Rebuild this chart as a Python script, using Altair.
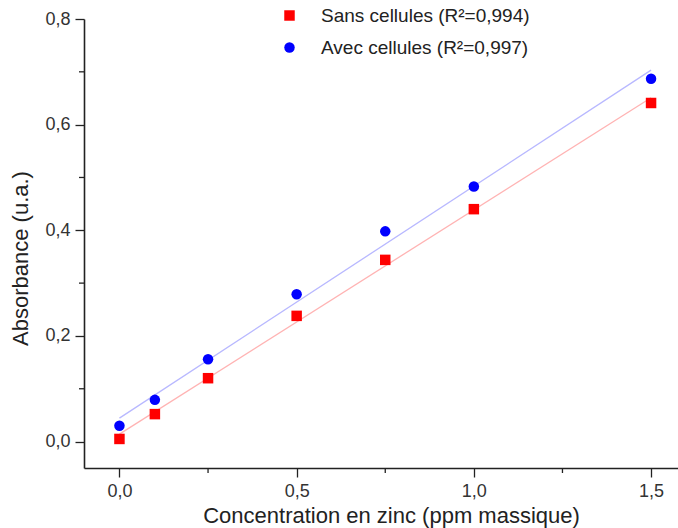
import altair as alt
import pandas as pd

conc = [0.0, 0.1, 0.25, 0.5, 0.75, 1.0, 1.5]
sans = [0.005, 0.052, 0.120, 0.238, 0.344, 0.440, 0.641]
avec = [0.030, 0.079, 0.156, 0.279, 0.398, 0.483, 0.687]
series = ["Sans cellules (R²=0,994)", "Avec cellules (R²=0,997)"]
colors = ["#ff0000", "#0000ff"]
line_colors = ["#ffb3b3", "#b8b8ff"]
shapes = ["square", "circle"]

x_major = [0.0, 0.5, 1.0, 1.5]
x_minor = [0.25, 0.75, 1.25]
y_major = [0.0, 0.2, 0.4, 0.6, 0.8]
y_minor = [0.1, 0.3, 0.5, 0.7]

rows = []
for s, vals in zip(series, [sans, avec]):
    for c, v in zip(conc, vals):
        rows.append({"x": c, "y": v, "serie": s})
df = pd.DataFrame(rows)

W, H = 594, 449
FONT = "Liberation Sans"
xscale = alt.Scale(domain=[-0.1, 1.576], nice=False, zero=False)
yscale = alt.Scale(domain=[-0.05, 0.8], nice=False, zero=False)
lab = "replace(format(datum.value, '.1f'), '.', ',')"

x_axis = alt.Axis(values=x_major, labelExpr=lab, grid=False, tickSize=9,
                  tickColor="#222", tickWidth=1.3, domainColor="#222", domainWidth=1.6,
                  labelFont=FONT, labelFontSize=18, labelColor="#333", labelPadding=5,
                  title="Concentration en zinc (ppm massique)", titleFont=FONT,
                  titleFontSize=22, titleFontWeight="normal", titleColor="#222",
                  titlePadding=5, titleX=307, orient="bottom")
y_axis = alt.Axis(values=y_major, labelExpr=lab, grid=False, tickSize=9,
                  tickColor="#222", tickWidth=1.3, domainColor="#222", domainWidth=1.6,
                  labelFont=FONT, labelFontSize=18, labelColor="#333", labelPadding=5,
                  title="Absorbance (u.a.)", titleFont=FONT, titleFontSize=22,
                  titleFontWeight="normal", titleColor="#222", titlePadding=12,
                  titleY=239, orient="left")

base = alt.Chart(df)

line_layers = []
for s, lc in zip(series, line_colors):
    line_layers.append(
        base.transform_filter(alt.datum.serie == s)
        .transform_regression("x", "y", extent=[0, 1.5])
        .mark_line(color=lc, strokeWidth=1.3)
        .encode(
            x=alt.X("x:Q", scale=xscale, axis=x_axis),
            y=alt.Y("y:Q", scale=yscale, axis=y_axis),
        )
    )

# minor ticks (outward, shorter than major ticks)
minor_x = alt.Chart(pd.DataFrame({"x": x_minor})).mark_rule(color="#222", strokeWidth=1.3).encode(
    x=alt.X("x:Q", scale=xscale, axis=x_axis),
    y=alt.value(H), y2=alt.value(H + 5),
)
minor_y = alt.Chart(pd.DataFrame({"y": y_minor})).mark_rule(color="#222", strokeWidth=1.3).encode(
    y=alt.Y("y:Q", scale=yscale, axis=y_axis),
    x=alt.value(0), x2=alt.value(-5),
)

points = base.mark_point(filled=True, opacity=1, size=110).encode(
    x=alt.X("x:Q", scale=xscale, axis=x_axis),
    y=alt.Y("y:Q", scale=yscale, axis=y_axis),
    color=alt.Color("serie:N", scale=alt.Scale(domain=series, range=colors),
                    legend=alt.Legend(title=None, orient="none", legendX=196, legendY=-13,
                                      labelFont=FONT, labelFontSize=19, labelColor="#222",
                                      labelLimit=0, symbolSize=110, rowPadding=12,
                                      labelOffset=22, symbolStrokeWidth=0)),
    shape=alt.Shape("serie:N", scale=alt.Scale(domain=series, range=shapes)),
)

chart = alt.layer(*line_layers, minor_x, minor_y, points).properties(
    width=W, height=H,
    autosize=alt.AutoSizeParams(type="none"),
    padding={"left": 84, "top": 19, "right": 0, "bottom": 60},
    background="white",
).configure_view(stroke=None)

chart.save("out.html", embed_options={"renderer": "svg", "actions": False})
